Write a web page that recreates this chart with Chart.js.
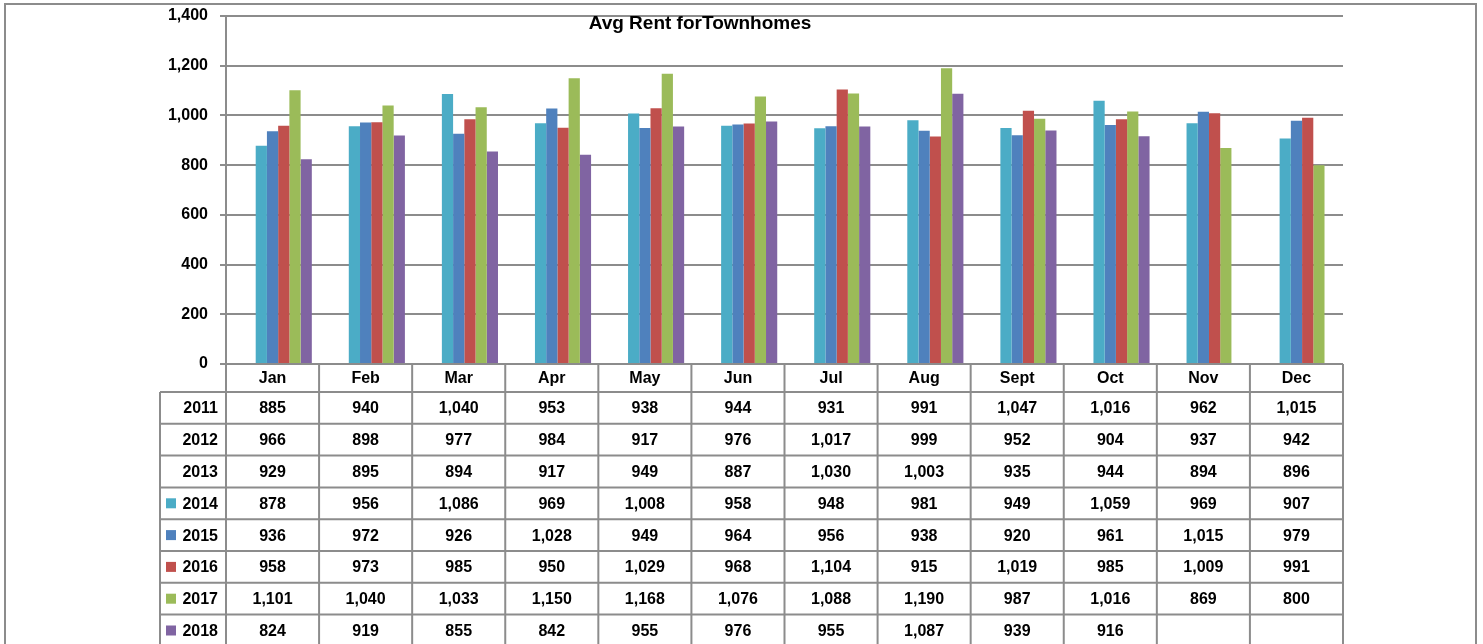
<!DOCTYPE html>
<html>
<head>
<meta charset="utf-8">
<script src="https://cdn.jsdelivr.net/npm/chart.js@4/dist/chart.umd.min.js"></script>
<style>
  html, body { margin: 0; padding: 0; background: #fff; }
  #wrap { width: 1483px; height: 644px; }
</style>
</head>
<body>
<div id="wrap"><canvas id="chart" width="1483" height="644"></canvas></div>
<script>
const months = ['Jan', 'Feb', 'Mar', 'Apr', 'May', 'Jun', 'Jul', 'Aug', 'Sept', 'Oct', 'Nov', 'Dec'];
const yTicks = [0, 200, 400, 600, 800, 1000, 1200, 1400];

const r2011 = [885, 940, 1040, 953, 938, 944, 931, 991, 1047, 1016, 962, 1015];
const r2012 = [966, 898, 977, 984, 917, 976, 1017, 999, 952, 904, 937, 942];
const r2013 = [929, 895, 894, 917, 949, 887, 1030, 1003, 935, 944, 894, 896];
const r2014 = [878, 956, 1086, 969, 1008, 958, 948, 981, 949, 1059, 969, 907];
const r2015 = [936, 972, 926, 1028, 949, 964, 956, 938, 920, 961, 1015, 979];
const r2016 = [958, 973, 985, 950, 1029, 968, 1104, 915, 1019, 985, 1009, 991];
const r2017 = [1101, 1040, 1033, 1150, 1168, 1076, 1088, 1190, 987, 1016, 869, 800];
const r2018 = [824, 919, 855, 842, 955, 976, 955, 1087, 939, 916, null, null];

const tableRows = [
  { label: '2011', data: r2011, color: null },
  { label: '2012', data: r2012, color: null },
  { label: '2013', data: r2013, color: null },
  { label: '2014', data: r2014, color: '#4bacc6' },
  { label: '2015', data: r2015, color: '#4f81bd' },
  { label: '2016', data: r2016, color: '#c0504d' },
  { label: '2017', data: r2017, color: '#9bbb59' },
  { label: '2018', data: r2018, color: '#8064a2' }
];

const FONT = '"Liberation Sans", Arial, sans-serif';
const LINE = '#8c8c8c';
const fmt = v => v == null ? '' : v.toLocaleString('en-US');

// two empty groups in front push the bars right, like the Excel original
const datasets = [
  { label: '', data: months.map(() => null), backgroundColor: 'transparent' },
  { label: '', data: months.map(() => null), backgroundColor: 'transparent' }
];
tableRows.filter(r => r.color).forEach(r => {
  datasets.push({ label: r.label, data: r.data, backgroundColor: r.color, borderWidth: 0 });
});

const tablePlugin = {
  id: 'dataTable',
  afterDraw(chart) {
    const ctx = chart.ctx;
    const area = chart.chartArea;
    const x = chart.scales.x;
    const step = (area.right - area.left) / months.length;
    const headTop = area.bottom;
    const headBottom = headTop + 28;
    const rowH = 31.8;
    const rowsLeft = 160;
    const bottom = 700;

    ctx.save();
    // outer frame
    ctx.strokeStyle = LINE;
    ctx.lineWidth = 2;
    ctx.strokeRect(5, 4, 1471, 720);

    // title
    ctx.fillStyle = '#000';
    ctx.font = 'bold 19px ' + FONT;
    ctx.textAlign = 'center';
    ctx.textBaseline = 'middle';
    ctx.fillText('Avg Rent forTownhomes', 700, 24);

    // grid of table
    ctx.strokeStyle = LINE;
    ctx.lineWidth = 2;
    ctx.beginPath();
    for (let i = 0; i <= months.length; i++) {
      const xx = area.left + i * step;
      ctx.moveTo(xx, headTop);
      ctx.lineTo(xx, bottom);
    }
    ctx.moveTo(rowsLeft, headBottom);
    ctx.lineTo(rowsLeft, bottom);
    ctx.moveTo(area.left, headTop);
    ctx.lineTo(area.right, headTop);
    for (let r = 0; r <= tableRows.length; r++) {
      const yy = headBottom + r * rowH;
      ctx.moveTo(rowsLeft, yy);
      ctx.lineTo(area.right, yy);
    }
    ctx.stroke();

    // month headers
    ctx.fillStyle = '#000';
    ctx.font = 'bold 16px ' + FONT;
    ctx.textAlign = 'center';
    months.forEach((m, i) => {
      ctx.fillText(m, x.getPixelForValue(i), (headTop + headBottom) / 2 + 1);
    });

    // rows
    tableRows.forEach((row, r) => {
      const cy = headBottom + r * rowH + rowH / 2 + 1;
      if (row.color) {
        ctx.fillStyle = row.color;
        ctx.fillRect(166, cy - 6, 10, 10);
      }
      ctx.fillStyle = '#000';
      ctx.textAlign = 'right';
      ctx.fillText(row.label, 218, cy);
      ctx.textAlign = 'center';
      row.data.forEach((v, i) => {
        ctx.fillText(fmt(v), x.getPixelForValue(i), cy);
      });
    });
    ctx.restore();
  }
};

new Chart(document.getElementById('chart'), {
  type: 'bar',
  data: { labels: months, datasets: datasets },
  options: {
    responsive: false,
    animation: false,
    layout: { padding: { top: 16, right: 140, bottom: 280, left: 0 } },
    datasets: { bar: { categoryPercentage: 0.844, barPercentage: 1 } },
    plugins: { legend: { display: false }, tooltip: { enabled: false }, title: { display: false } },
    scales: {
      x: { display: false },
      y: {
        min: 0,
        max: 1400,
        afterFit(scale) { scale.width = 226; },
        afterBuildTicks(scale) { scale.ticks = yTicks.map(v => ({ value: v })); },
        ticks: {
          padding: 12,
          color: '#000',
          font: { family: FONT, size: 16, weight: 'bold', lineHeight: 0.2 },
          callback: v => fmt(v)
        },
        grid: { color: LINE, lineWidth: 2, tickLength: 6 },
        border: { color: LINE, width: 2 }
      }
    }
  },
  plugins: [tablePlugin]
});
</script>
</body>
</html>
